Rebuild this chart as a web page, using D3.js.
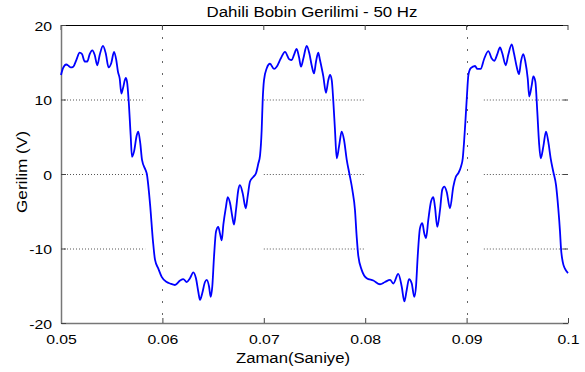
<!DOCTYPE html>
<html>
<head>
<meta charset="utf-8">
<script src="https://cdn.jsdelivr.net/npm/d3@7/dist/d3.min.js"></script>
<style>
html,body{margin:0;padding:0;background:#fff;}
svg{display:block;}
text{font-family:"Liberation Sans",Arial,Helvetica,sans-serif;fill:#000;}
</style>
</head>
<body>
<svg id="chart" width="585" height="372"></svg>
<script>
const titleText = "Dahili Bobin Gerilimi - 50 Hz";
const xLabelText = "Zaman(Saniye)";
const yLabelText = "Gerilim (V)";
const xTicks = [0.05, 0.06, 0.07, 0.08, 0.09, 0.1];
const xTickLabels = ["0.05", "0.06", "0.07", "0.08", "0.09", "0.1"];
const yTicks = [-20, -10, 0, 10, 20];
const yTickLabels = ["-20", "-10", "0", "10", "20"];

const time = [
0.05000,0.05020,0.05052,0.05076,0.05096,0.05121,0.05151,0.05184,0.05207,0.05234,
0.05259,0.05283,0.05309,0.05332,0.05358,0.05382,0.05414,0.05441,0.05470,0.05496,
0.05523,0.05545,0.05562,0.05579,0.05595,0.05611,0.05638,0.05651,0.05668,0.05687,
0.05700,0.05720,0.05747,0.05762,0.05782,0.05799,0.05835,0.05845,0.05878,0.05907,
0.05927,0.05960,0.05993,0.06043,0.06076,0.06124,0.06174,0.06206,0.06240,0.06272,
0.06305,0.06331,0.06354,0.06371,0.06393,0.06420,0.06437,0.06460,0.06476,0.06492,
0.06509,0.06529,0.06551,0.06568,0.06585,0.06601,0.06627,0.06644,0.06667,0.06689,
0.06706,0.06726,0.06749,0.06765,0.06792,0.06822,0.06841,0.06864,0.06896,0.06923,
0.06946,0.06963,0.06979,0.06989,0.07002,0.07029,0.07061,0.07101,0.07127,0.07167,
0.07209,0.07251,0.07275,0.07298,0.07324,0.07347,0.07367,0.07390,0.07423,0.07449,
0.07472,0.07495,0.07515,0.07537,0.07554,0.07587,0.07613,0.07636,0.07653,0.07670,
0.07685,0.07702,0.07719,0.07742,0.07768,0.07791,0.07818,0.07843,0.07873,0.07899,
0.07916,0.07932,0.07966,0.08015,0.08080,0.08146,0.08195,0.08245,0.08277,0.08326,
0.08360,0.08386,0.08409,0.08432,0.08459,0.08484,0.08501,0.08518,0.08540,0.08563,
0.08583,0.08600,0.08622,0.08649,0.08672,0.08688,0.08711,0.08738,0.08760,0.08780,
0.08804,0.08836,0.08869,0.08893,0.08918,0.08945,0.08962,0.08975,0.08988,0.09002,
0.09018,0.09041,0.09083,0.09106,0.09139,0.09172,0.09214,0.09248,0.09273,0.09303,
0.09329,0.09352,0.09386,0.09411,0.09445,0.09467,0.09494,0.09517,0.09536,0.09559,
0.09579,0.09603,0.09618,0.09642,0.09658,0.09678,0.09697,0.09714,0.09731,0.09757,
0.09783,0.09806,0.09829,0.09855,0.09882,0.09904,0.09921,0.09931,0.09948,0.09970,
0.10000
];
const voltage = [
13.3,14.2,14.7,14.5,14.3,14.4,15.3,16.3,16.1,15.1,
15.1,16.1,16.6,16.0,14.6,16.0,17.2,16.2,14.3,14.9,
16.4,15.3,13.7,12.8,10.8,11.5,12.9,12.4,9.7,5.2,
2.3,3.0,5.2,5.7,4.1,1.9,0.5,0.1,-4.0,-9.0,
-11.5,-12.7,-13.8,-14.5,-14.7,-14.9,-14.3,-14.1,-14.5,-14.0,
-13.2,-14.0,-15.8,-16.9,-16.0,-14.5,-14.2,-15.1,-16.5,-15.1,
-11.1,-7.7,-7.1,-8.0,-8.9,-6.8,-4.4,-3.1,-3.9,-5.7,
-6.8,-4.8,-2.1,-1.5,-2.6,-4.6,-3.0,-1.0,-0.4,0.1,
1.4,2.5,5.9,9.9,12.6,14.2,14.8,14.1,14.4,15.5,
16.4,15.4,15.3,16.0,16.8,15.7,14.4,15.5,17.2,16.2,
14.6,13.5,15.1,16.3,15.3,13.1,10.9,12.6,13.3,12.6,
9.9,5.9,2.1,3.7,5.7,4.6,1.9,0.1,-2.1,-4.8,
-8.4,-11.0,-12.9,-14.0,-14.3,-14.8,-14.5,-14.2,-14.7,-13.4,
-15.1,-17.1,-15.6,-14.1,-14.7,-16.5,-15.1,-11.0,-7.3,-6.6,
-8.0,-8.6,-6.2,-3.7,-3.1,-4.4,-7.1,-4.8,-2.1,-1.7,
-2.4,-4.6,-1.7,-0.4,0.1,1.0,2.1,4.3,7.0,10.2,
13.3,14.2,14.5,14.1,14.1,15.4,16.5,15.5,15.2,16.1,
17.0,16.2,14.6,16.0,17.4,16.2,14.4,13.4,15.1,16.1,
15.1,12.8,10.4,11.9,13.1,12.4,8.4,4.3,2.1,3.7,
5.7,4.3,2.1,0.3,-1.5,-4.6,-7.7,-10.0,-11.8,-12.7,
-13.3
];
// visible (unbroken) grid segments as they appear in the reference
const hGridSpans = [[0.05, 0.0583], [0.07, 0.0800], [0.0917, 0.1]];
const vGridAt = [0.06, 0.09];

const svg = d3.select("#chart");
const L = 61, R = 568, T = 25, B = 323;
const x = d3.scaleLinear().domain([0.05, 0.1]).range([L, R]);
const y = d3.scaleLinear().domain([-20, 20]).range([B, T]);

function stretch(sel, k) {
  sel.each(function () {
    const w = this.getComputedTextLength();
    d3.select(this).attr("textLength", w * k).attr("lengthAdjust", "spacingAndGlyphs");
  });
}

// grid
const g = svg.append("g");
yTicks.filter(v => v > -20 && v < 20).forEach(v => {
  hGridSpans.forEach(s => {
    g.append("line").attr("x1", x(s[0])).attr("x2", x(s[1]))
      .attr("y1", y(v) + 0.5).attr("y2", y(v) + 0.5)
      .attr("stroke", "#555").attr("stroke-width", 1).attr("stroke-dasharray", "1,2");
  });
});
vGridAt.forEach(v => {
  g.append("line").attr("x1", Math.round(x(v)) + 0.5).attr("x2", Math.round(x(v)) + 0.5)
    .attr("y1", T).attr("y2", B)
    .attr("stroke", "#666").attr("stroke-width", 1).attr("stroke-dasharray", "2,10");
});

// box: top line
svg.append("line").attr("x1", L).attr("x2", R).attr("y1", T + 0.5).attr("y2", T + 0.5)
  .attr("stroke", "#000").attr("stroke-width", 1);

// axes
const xAxis = d3.axisBottom(x).tickValues(xTicks).tickFormat((d, i) => xTickLabels[i])
  .tickSizeInner(-5).tickSizeOuter(0).tickPadding(14);
const gx = svg.append("g").attr("transform", `translate(0,${B})`).call(xAxis);
gx.select(".domain").attr("stroke", "#777").attr("stroke-width", 1.5);
gx.selectAll(".tick line").attr("stroke", "#444");
gx.selectAll(".tick text").attr("font-size", 13.5).attr("font-family", null)
  .attr("dy", null).attr("y", 21);
stretch(gx.selectAll(".tick text"), 1.17);

// top ticks
svg.append("g").selectAll("line").data(xTicks).join("line")
  .attr("x1", d => x(d)).attr("x2", d => x(d)).attr("y1", T).attr("y2", T + 5)
  .attr("stroke", "#444");

const yAxis = d3.axisLeft(y).tickValues(yTicks).tickFormat((d, i) => yTickLabels[i])
  .tickSizeInner(-5).tickSizeOuter(0).tickPadding(9);
const gy = svg.append("g").attr("transform", `translate(${L},0)`).call(yAxis);
gy.select(".domain").attr("stroke", "#777").attr("stroke-width", 1.5);
gy.selectAll(".tick line").attr("stroke", "#444");
gy.selectAll(".tick text").attr("font-size", 13.5).attr("font-family", null)
  .attr("dy", null).attr("y", 5);
stretch(gy.selectAll(".tick text"), 1.17);

// right ticks
svg.append("g").selectAll("line").data(yTicks).join("line")
  .attr("x1", R - 5).attr("x2", R).attr("y1", d => y(d) + 0.5).attr("y2", d => y(d) + 0.5)
  .attr("stroke", "#444");

// data line
const data = time.map((t, i) => ({ t: t, v: voltage[i] }));
const line = d3.line().x(d => x(d.t)).y(d => y(d.v)).curve(d3.curveMonotoneX);
svg.append("path").datum(data).attr("d", line)
  .attr("fill", "none").attr("stroke", "#0000ff").attr("stroke-width", 1.8)
  .attr("stroke-linejoin", "round");

// title and labels
const tt = svg.append("text").attr("x", 312).attr("y", 17).attr("text-anchor", "middle")
  .attr("font-size", 14).text(titleText);
tt.attr("textLength", 211).attr("lengthAdjust", "spacingAndGlyphs");

svg.append("text").attr("x", 293).attr("y", 363).attr("text-anchor", "middle")
  .attr("font-size", 14).text(xLabelText)
  .attr("textLength", 114).attr("lengthAdjust", "spacingAndGlyphs");

svg.append("text").attr("transform", "translate(27,172) rotate(-90)")
  .attr("text-anchor", "middle").attr("font-size", 15).text(yLabelText)
  .attr("textLength", 82).attr("lengthAdjust", "spacingAndGlyphs");
</script>
</body>
</html>
